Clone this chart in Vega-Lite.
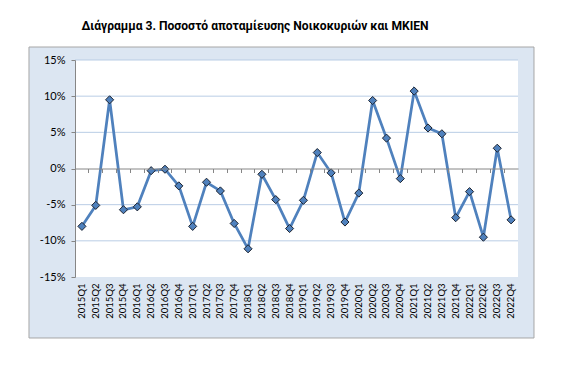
{
  "$schema": "https://vega.github.io/schema/vega-lite/v6.json",
  "width": 443,
  "height": 217,
  "autosize": {"type": "none"},
  "padding": {"left": 75, "top": 60, "right": 58, "bottom": 111},
  "background": "white",
  "config": {"view": {"stroke": null}},
  "title": {
    "text": "Διάγραμμα 3. Ποσοστό αποταμίευσης Νοικοκυριών και ΜΚΙΕΝ",
    "font": "Roboto",
    "fontSize": 12.1,
    "fontWeight": "bold",
    "color": "#000000",
    "anchor": "middle",
    "frame": "group",
    "baseline": "alphabetic",
    "offset": 4,
    "dx": -41.5
  },
  "data": {
    "values": [
      {"q": "2015Q1", "v": -0.080},
      {"q": "2015Q2", "v": -0.051},
      {"q": "2015Q3", "v": 0.095},
      {"q": "2015Q4", "v": -0.057},
      {"q": "2016Q1", "v": -0.053},
      {"q": "2016Q2", "v": -0.003},
      {"q": "2016Q3", "v": -0.001},
      {"q": "2016Q4", "v": -0.024},
      {"q": "2017Q1", "v": -0.080},
      {"q": "2017Q2", "v": -0.019},
      {"q": "2017Q3", "v": -0.031},
      {"q": "2017Q4", "v": -0.076},
      {"q": "2018Q1", "v": -0.111},
      {"q": "2018Q2", "v": -0.008},
      {"q": "2018Q3", "v": -0.043},
      {"q": "2018Q4", "v": -0.083},
      {"q": "2019Q1", "v": -0.044},
      {"q": "2019Q2", "v": 0.022},
      {"q": "2019Q3", "v": -0.006},
      {"q": "2019Q4", "v": -0.074},
      {"q": "2020Q1", "v": -0.034},
      {"q": "2020Q2", "v": 0.094},
      {"q": "2020Q3", "v": 0.042},
      {"q": "2020Q4", "v": -0.014},
      {"q": "2021Q1", "v": 0.107},
      {"q": "2021Q2", "v": 0.056},
      {"q": "2021Q3", "v": 0.048},
      {"q": "2021Q4", "v": -0.068},
      {"q": "2022Q1", "v": -0.032},
      {"q": "2022Q2", "v": -0.095},
      {"q": "2022Q3", "v": 0.028},
      {"q": "2022Q4", "v": -0.071}
    ]
  },
  "resolve": {"scale": {"x": "independent", "y": "independent"}, "axis": {"x": "independent", "y": "independent"}},
  "layer": [
    {
      "data": {"values": [{"b": 0}]},
      "mark": {"type": "rect", "fill": "#dce6f2", "stroke": "#a6a6a6", "strokeWidth": 1},
      "encoding": {
        "x": {"datum": 0, "type": "quantitative", "scale": {"domain": [0.09109, 0.96832], "nice": false, "zero": false}, "axis": null},
        "x2": {"datum": 1},
        "y": {"datum": 0, "type": "quantitative", "scale": {"domain": [0.20962, 0.95533], "nice": false, "zero": false}, "axis": null},
        "y2": {"datum": 1}
      }
    },
    {
      "layer": [
        {
          "data": {"values": [{"b": 0}]},
          "mark": {"type": "rect", "fill": "white"},
          "encoding": {
            "y": {
              "datum": -0.15, "type": "quantitative", "scale": {"domain": [-0.15, 0.15], "nice": false, "zero": false},
              "axis": {
                "orient": "left", "title": null, "values": [-0.15, -0.1, -0.05, 0, 0.05, 0.1, 0.15], "format": ".0%",
                "labelExpr": "replace(datum.label, '−', '-')",
                "grid": false, "domainColor": "#868686", "tickColor": "#868686", "tickSize": 4,
                "labelPadding": 6, "labelFont": "Lato", "labelFontSize": 11, "labelColor": "#000000", "zindex": 1
              }
            },
            "y2": {"datum": 0.15}
          }
        },
        {
          "data": {"values": [{"g": -0.10}, {"g": -0.05}, {"g": 0.05}, {"g": 0.10}, {"g": 0.15}]},
          "mark": {"type": "rule", "color": "#b9cde5", "strokeWidth": 1},
          "encoding": {
            "y": {
              "field": "g", "type": "quantitative",
              "axis": {
                "orient": "left", "title": null, "values": [-0.15, -0.1, -0.05, 0, 0.05, 0.1, 0.15], "format": ".0%",
                "labelExpr": "replace(datum.label, '−', '-')",
                "grid": false, "domainColor": "#868686", "tickColor": "#868686", "tickSize": 4,
                "labelPadding": 6, "labelFont": "Lato", "labelFontSize": 11, "labelColor": "#000000", "zindex": 1
              }
            }
          }
        },
        {
          "mark": {"type": "line", "color": "#4f81bd", "strokeWidth": 2.75},
          "encoding": {
            "x": {
              "field": "q", "type": "ordinal", "sort": null,
              "scale": {"type": "band", "paddingInner": 0, "paddingOuter": 0},
              "axis": {
                "orient": "bottom", "title": null, "labelAngle": -90, "labelFont": "Lato", "labelFontSize": 9.5,
                "labelColor": "#000000", "ticks": false, "domain": false, "labelPadding": 6, "zindex": 1
              }
            },
            "y": {
              "field": "v", "type": "quantitative",
              "axis": {
                "orient": "left", "title": null, "values": [-0.15, -0.1, -0.05, 0, 0.05, 0.1, 0.15], "format": ".0%",
                "labelExpr": "replace(datum.label, '−', '-')",
                "grid": false, "domainColor": "#868686", "tickColor": "#868686", "tickSize": 4,
                "labelPadding": 6, "labelFont": "Lato", "labelFontSize": 11, "labelColor": "#000000", "zindex": 1
              }
            }
          }
        },
        {
          "mark": {"type": "point", "shape": "diamond", "filled": true, "fill": "#4f81bd", "stroke": "#1e2430", "strokeWidth": 1, "size": 66, "opacity": 1},
          "encoding": {
            "x": {
              "field": "q", "type": "ordinal", "sort": null,
              "axis": {
                "orient": "top", "offset": -108.5, "title": null, "labels": false, "domainColor": "#868686",
                "tickColor": "#868686", "tickSize": -4, "bandPosition": 0, "zindex": 1
              }
            },
            "y": {
              "field": "v", "type": "quantitative",
              "axis": {
                "orient": "left", "title": null, "values": [-0.15, -0.1, -0.05, 0, 0.05, 0.1, 0.15], "format": ".0%",
                "labelExpr": "replace(datum.label, '−', '-')",
                "grid": false, "domainColor": "#868686", "tickColor": "#868686", "tickSize": 4,
                "labelPadding": 6, "labelFont": "Lato", "labelFontSize": 11, "labelColor": "#000000", "zindex": 1
              }
            }
          }
        }
      ]
    }
  ]
}
